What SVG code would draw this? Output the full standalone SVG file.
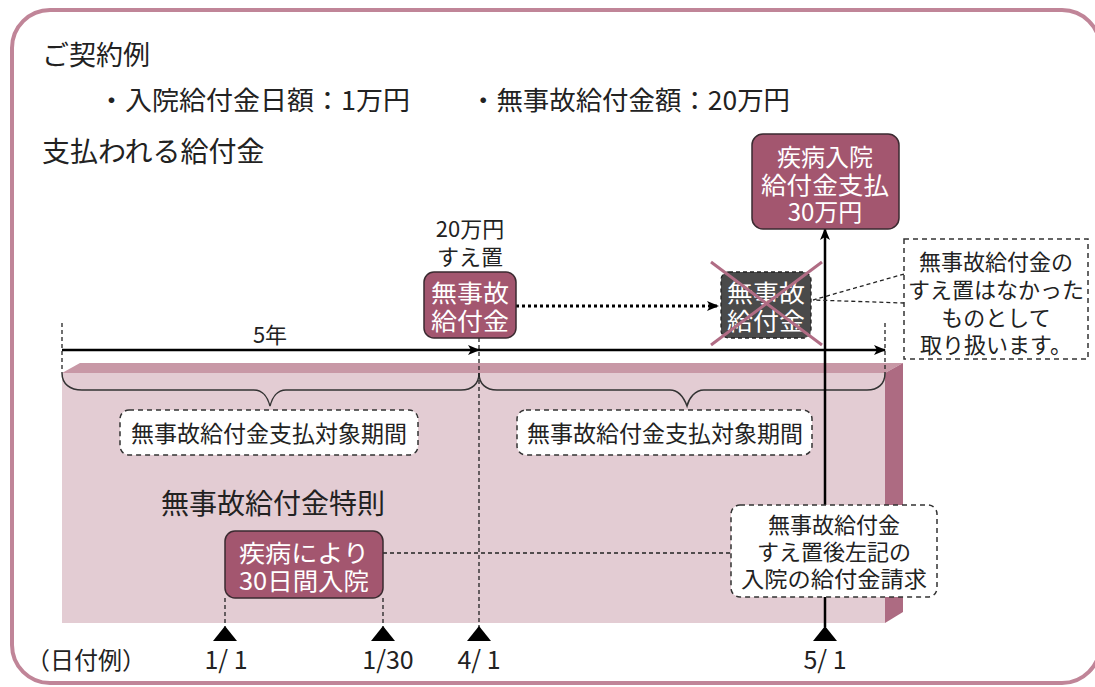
<svg xmlns="http://www.w3.org/2000/svg" width="1095" height="687" viewBox="0 0 1095 687">
<defs>
<style>
text{font-family:"Noto Sans CJK JP","Noto Sans",sans-serif;fill:#222;dominant-baseline:central}
.w{fill:#fff}
.c{text-anchor:middle}
.box{fill:#a3566f;stroke:#3a2a30;stroke-width:1.5}
.dbox{fill:#fff;stroke:#333;stroke-width:1.5;stroke-dasharray:5,4}
.dl{fill:none;stroke:#222;stroke-width:1.3;stroke-dasharray:4,3}
.ln{fill:none;stroke:#000;stroke-width:2.5}
.br{fill:none;stroke:#333;stroke-width:1.5}
.bt{font-size:24px}
.nt{font-size:22px}
</style>
<marker id="ah" viewBox="0 0 12 10" refX="11" refY="5" markerWidth="12" markerHeight="10" markerUnits="userSpaceOnUse" orient="auto">
<path d="M0,0 L12,5 L0,10 L3,5 Z" fill="#000"/>
</marker>
</defs>

<rect x="12" y="10" width="1088" height="673" rx="38" fill="#fff" stroke="#c08598" stroke-width="4"/>

<g id="header">
<text x="42" y="53" style="font-size:27px">ご契約例</text>
<text x="98" y="98" style="font-size:26px" textLength="312" lengthAdjust="spacingAndGlyphs">・入院給付金日額：1万円</text>
<text x="470" y="98" style="font-size:26px" textLength="320" lengthAdjust="spacingAndGlyphs">・無事故給付金額：20万円</text>
<text x="42" y="150" style="font-size:28px">支払われる給付金</text>
</g>

<g id="band">
<rect x="62" y="373" width="823" height="250" fill="#e3ccd3"/>
<polygon points="62,373 80,363 903,363 885,373" fill="#c898a6"/>
<polygon points="885,373 903,363 903,612 885,623" fill="#ad6b82"/>
<text x="273" y="502" class="c" style="font-size:28px">無事故給付金特則</text>
</g>

<g id="connectors">
<path class="br" d="M62,373 C62,384 70,390 82,390 L254,390 C263,390 268,398 270,406 C272,398 277,390 286,390 L461,390 C472,390 479,384 479,373"/>
<path class="br" d="M479,373 C479,384 486,390 497,390 L670,390 C679,390 684,398 687,406 C689,398 695,390 704,390 L867,390 C878,390 885,384 885,373"/>
<line class="dl" x1="62" y1="323" x2="62" y2="373"/>
<line class="dl" x1="885" y1="323" x2="885" y2="373"/>
<line class="dl" x1="479" y1="338" x2="479" y2="627"/>
<line class="dl" x1="225" y1="598" x2="225" y2="627"/>
<line class="dl" x1="383" y1="598" x2="383" y2="627"/>
<line class="dl" x1="383" y1="553" x2="731" y2="553"/>
<line class="ln" x1="62" y1="350" x2="479" y2="350" marker-end="url(#ah)"/>
<line class="ln" x1="479" y1="350" x2="885" y2="350" marker-end="url(#ah)"/>
<line class="ln" x1="825" y1="627" x2="825" y2="229" marker-end="url(#ah)"/>
<line x1="516" y1="306" x2="718" y2="306" stroke="#000" stroke-width="3" stroke-dasharray="3,3" marker-end="url(#ah)"/>
<polyline class="dl" points="904,274 813,300 904,303"/>
<text x="270" y="333" class="c" style="font-size:22px">5年</text>
</g>

<g id="period1">
<rect class="dbox" x="120" y="410" width="298" height="45" rx="9"/>
<text x="269" y="432" class="c" style="font-size:23px">無事故給付金支払対象期間</text>
</g>
<g id="period2">
<rect class="dbox" x="517" y="410" width="295" height="45" rx="9"/>
<text x="665" y="432" class="c" style="font-size:23px">無事故給付金支払対象期間</text>
</g>

<g id="suoki">
<text x="470" y="227" class="c nt">20万円</text>
<text x="470" y="255" class="c nt">すえ置</text>
</g>

<g id="mujiko">
<rect class="box" x="424" y="272" width="92" height="66" rx="10"/>
<text x="470" y="291" class="c w bt" textLength="78" lengthAdjust="spacingAndGlyphs">無事故</text>
<text x="470" y="319" class="c w bt" textLength="78" lengthAdjust="spacingAndGlyphs">給付金</text>
</g>

<g id="mujiko-cancel">
<rect x="721" y="272" width="90" height="66" rx="8" fill="#4a4a4a" stroke="#222" stroke-width="1.3" stroke-dasharray="4,3"/>
<text x="766" y="291" class="c w bt" textLength="78" lengthAdjust="spacingAndGlyphs">無事故</text>
<text x="766" y="319" class="c w bt" textLength="78" lengthAdjust="spacingAndGlyphs">給付金</text>
<line x1="711" y1="262" x2="822" y2="345" stroke="#b06c84" stroke-width="3"/>
<line x1="822" y1="262" x2="711" y2="345" stroke="#b06c84" stroke-width="3"/>
</g>

<g id="payment">
<rect class="box" x="752" y="134" width="147" height="95" rx="11"/>
<text x="825" y="155" class="c w bt">疾病入院</text>
<text x="825" y="183" class="c w bt" textLength="128" lengthAdjust="spacingAndGlyphs">給付金支払</text>
<text x="825" y="210" class="c w bt">30万円</text>
</g>

<g id="note1">
<rect x="904" y="239" width="184" height="120" fill="#fff" stroke="#333" stroke-width="1.5" stroke-dasharray="5,4"/>
<text x="996" y="260" class="c nt">無事故給付金の</text>
<text x="996" y="288" class="c nt">すえ置はなかった</text>
<text x="996" y="316" class="c nt">ものとして</text>
<text x="996" y="343" class="c nt">取り扱います。</text>
</g>

<g id="hospital">
<rect class="box" x="225" y="531" width="158" height="67" rx="10"/>
<text x="304" y="551" class="c w bt" textLength="130" lengthAdjust="spacingAndGlyphs">疾病により</text>
<text x="304" y="579" class="c w bt" textLength="130" lengthAdjust="spacingAndGlyphs">30日間入院</text>
</g>

<g id="note2">
<rect class="dbox" x="731" y="505" width="206" height="92" rx="9"/>
<text x="834" y="523" class="c nt">無事故給付金</text>
<text x="834" y="550" class="c nt">すえ置後左記の</text>
<text x="834" y="577" class="c nt" textLength="186" lengthAdjust="spacingAndGlyphs">入院の給付金請求</text>
</g>

<g id="dates">
<polygon points="225,626 213,641 237,641" fill="#000"/>
<polygon points="383,626 371,641 395,641" fill="#000"/>
<polygon points="479,626 467,641 491,641" fill="#000"/>
<polygon points="825,626 813,641 837,641" fill="#000"/>
<text x="26" y="658" style="font-size:24px">（日付例）</text>
<text x="226" y="658" class="c" style="font-size:25px">1/ 1</text>
<text x="388" y="658" class="c" style="font-size:25px">1/30</text>
<text x="479" y="658" class="c" style="font-size:25px">4/ 1</text>
<text x="825" y="658" class="c" style="font-size:25px">5/ 1</text>
</g>
</svg>
